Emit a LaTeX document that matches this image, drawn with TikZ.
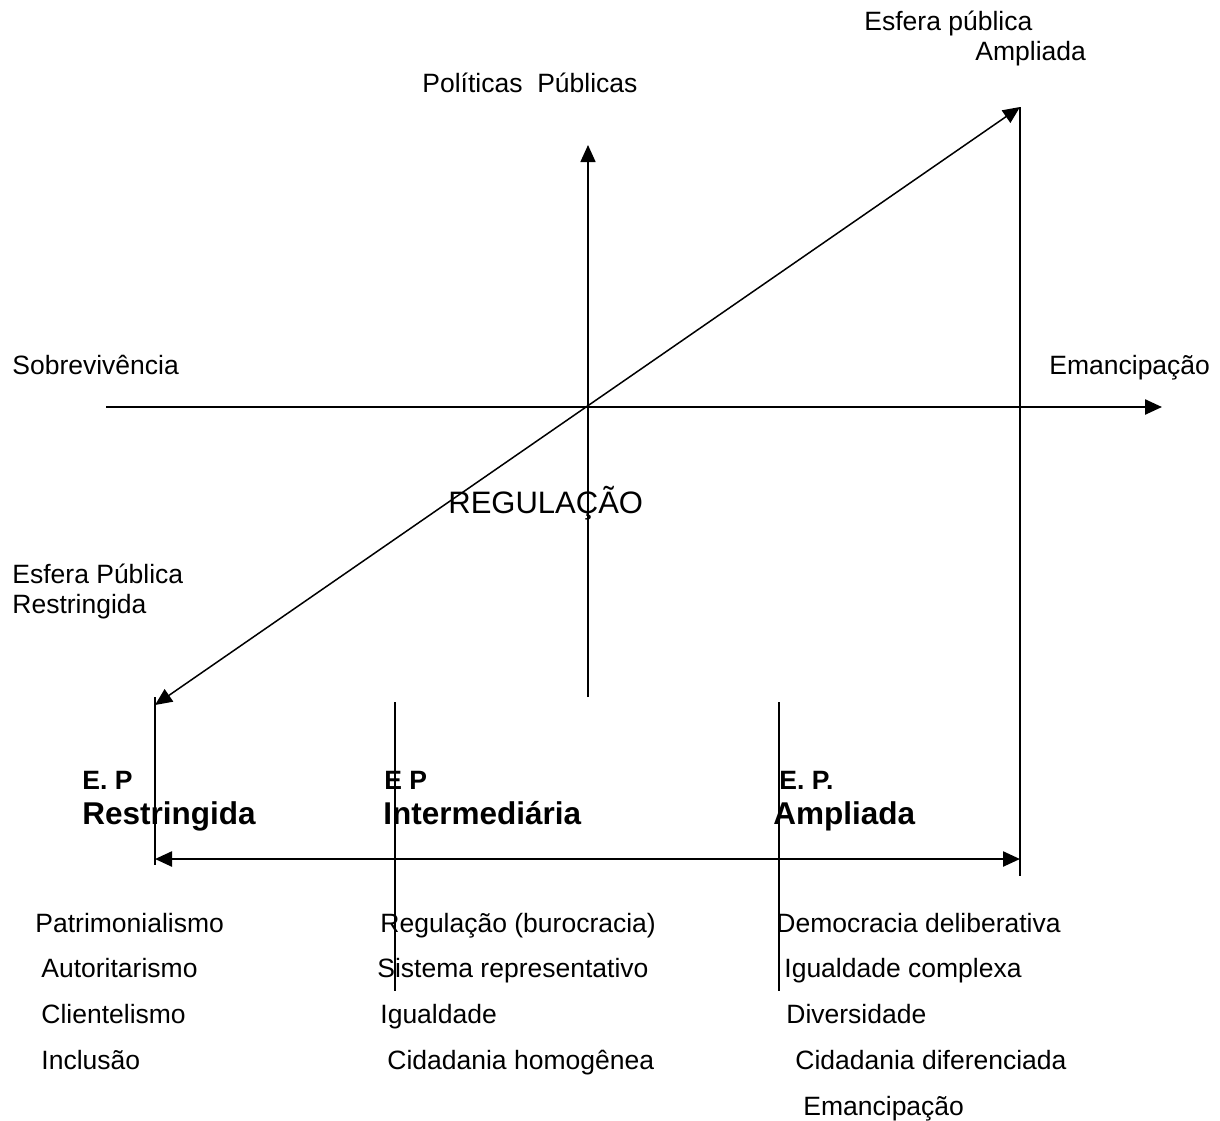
\documentclass[tikz,border=0pt]{standalone}
\usepackage{fontspec}
\setmainfont{Liberation Sans}
\usetikzlibrary{arrows.meta}
\tikzset{
  txt/.style    = {inner sep=0pt, anchor=base west, font=\fontsize{13.25}{16}\selectfont},
  title/.style  = {txt, font=\fontsize{15.5}{19}\selectfont},
  ep/.style     = {txt, font=\fontsize{13.25}{16}\selectfont\bfseries},
  ep big/.style = {txt, font=\fontsize{15.75}{19}\selectfont\bfseries},
  axisline/.style = {line width=1.2pt},
  thinline/.style = {line width=0.75pt}
}

\begin{document}
\begin{tikzpicture}[x=0.5pt, y=-0.5pt,
  >={Triangle[length=8.5pt,width=7.5pt]}]
\useasboundingbox (0,0) rectangle (1220,1120);

% points of the axes
\coordinate (O)   at (588,407);
\coordinate (axW) at (106,407);
\coordinate (axE) at (1162,407);
\coordinate (axN) at (588,145);
\coordinate (axS) at (588,697);
\coordinate (dgN) at (1020,107);
\coordinate (dgS) at (155,705);

% points of the bottom scale
\coordinate (rT) at (1020,107);
\coordinate (rB) at (1020,876);
\coordinate (lT) at (155,697);
\coordinate (lB) at (155,865);
\coordinate (iT) at (395,702);
\coordinate (iB) at (395,991);
\coordinate (aT) at (779,702);
\coordinate (aB) at (779,991);
\coordinate (sW) at (155,859);
\coordinate (sE) at (1020,859);

% labels of the axes
\node[txt] (epa1) at (864,30) {Esfera pública};
\node[txt] (epa2) at (975,60) {Ampliada};
\node[txt] (pp)   at (422,92) {Políticas~~Públicas};
\node[txt] (sob)  at (12,374) {Sobrevivência};
\node[txt] (emc)  at (1049,374) {Emancipação};
\node[title] (reg) at (448,513) {REGULAÇÃO};
\node[txt] (epr1) at (12,583) {Esfera Pública};
\node[txt] (epr2) at (12,613) {Restringida};

% headings of the scale
\node[ep]     (h1a) at (82,789)  {E. P};
\node[ep big] (h1b) at (82,824)  {Restringida};
\node[ep]     (h2a) at (384,789) {E P};
\node[ep big] (h2b) at (383,824) {Intermediária};
\node[ep]     (h3a) at (779,789) {E. P.};
\node[ep big] (h3b) at (773,824) {Ampliada};

% lists under the scale
\foreach \x/\t [count=\i] in {35/Patrimonialismo, 41/Autoritarismo,
    41/Clientelismo, 41/Inclusão}
  \node[txt] (l\i) at (\x,{886.25+45.75*\i}) {\t};

\foreach \x/\t [count=\i] in {380/Regulação (burocracia), 377/Sistema representativo,
    380/Igualdade, 387/Cidadania homogênea}
  \node[txt] (m\i) at (\x,{886.25+45.75*\i}) {\t};

\foreach \x/\t [count=\i] in {776/Democracia deliberativa, 784/Igualdade complexa,
    786/Diversidade, 795/Cidadania diferenciada, 803/Emancipação}
  \node[txt] (r\i) at (\x,{886.25+45.75*\i}) {\t};

% axes
\draw[axisline,->] (axW) -- (axE);
\draw[thinline,->] (axS) -- (axN);
\draw[thinline,<->] (dgS) -- (dgN);

% vertical marks and the scale
\draw[thinline] (rT) -- (rB);
\draw[thinline] (lT) -- (lB);
\draw[thinline] (iT) -- (iB);
\draw[thinline] (aT) -- (aB);
\draw[axisline,<->] (sW) -- (sE);

\end{tikzpicture}
\end{document}
